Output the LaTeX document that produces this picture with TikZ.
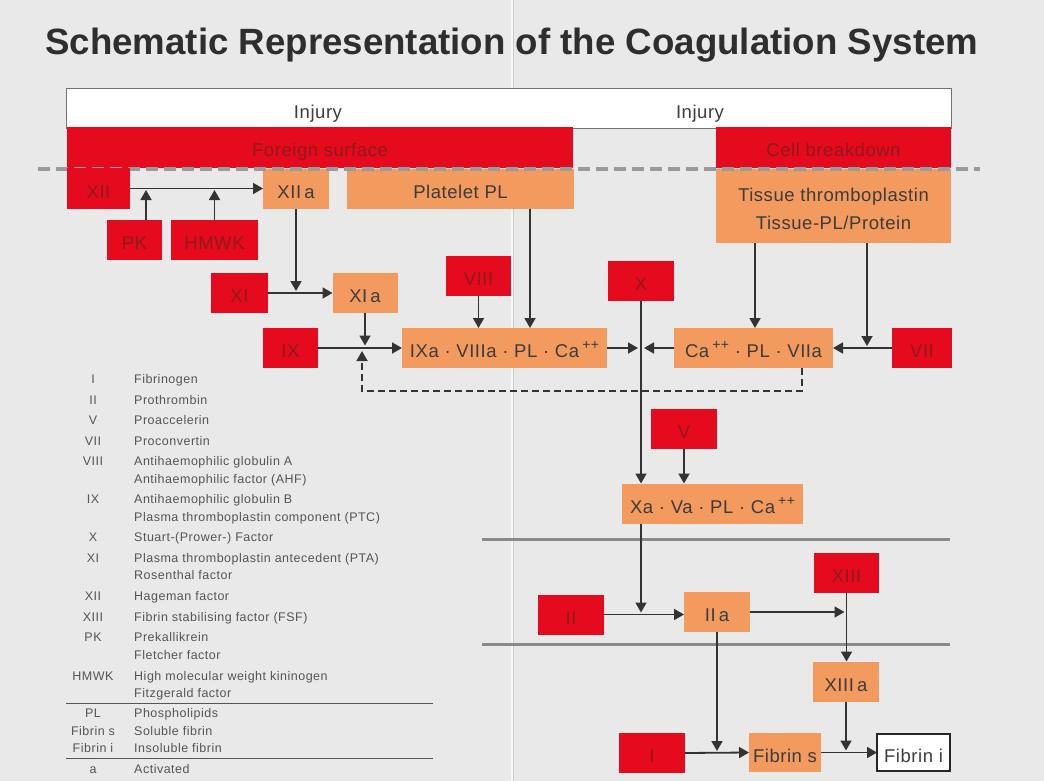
\documentclass[tikz,border=0pt]{standalone}
\usepackage{fontspec}
\setmainfont{Liberation Sans}
\newfontfamily\labfont[LetterSpace=3.0]{Liberation Sans}
\newfontfamily\legfont[LetterSpace=4.0]{Liberation Sans}
\usetikzlibrary{arrows.meta}
\definecolor{bg}{HTML}{E9E9E9}
\definecolor{cred}{HTML}{E50A1E}
\definecolor{corange}{HTML}{F39A5F}
\definecolor{redtxt}{HTML}{8F1A1A}
\definecolor{dtxt}{HTML}{3C3C3C}
\definecolor{ltxt}{HTML}{555555}
\definecolor{lnc}{HTML}{333333}
\definecolor{sepc}{HTML}{8A8A8A}
\definecolor{dashc}{HTML}{9A9A9A}
\definecolor{ttl}{HTML}{2E2E2E}
\newcommand{\cpp}{\,\raisebox{0.42em}{\fontsize{14}{14}\selectfont ++}}
\begin{document}
\begin{tikzpicture}[x=1pt,y=-1pt,
  bx/.style={rectangle, inner sep=0pt, outer sep=0pt, font=\labfont\fontsize{18.5}{27.5}\selectfont},
  one/.style={text height=19pt, text depth=0pt},
  rb/.style={bx, fill=cred, text=redtxt},
  ob/.style={bx, fill=corange, text=dtxt},
  rbox/.style={rb, one},
  obox/.style={ob, one},
  arr/.style={draw=lnc, line width=1.8pt, -{Triangle[length=10pt,width=11pt]}},
  arrd/.style={arr, dash pattern=on 7pt off 4pt},
  sepline/.style={draw=sepc, line width=3pt},
  leg/.style={font=\legfont\fontsize{12.5}{14}\selectfont, text=ltxt, inner sep=0pt},
]
\useasboundingbox (0,0) rectangle (1044,781);
\fill[bg] (0,0) rectangle (1044,781);
\draw[white!70!bg, line width=1.2pt] (512,0) -- (512,781);
\draw[black!12!bg, line width=0.5pt] (513.2,0) -- (513.2,781);

% title
\node[anchor=base west, inner sep=0pt, text=ttl] (title) at (45,55)
  {\resizebox{933pt}{26.5pt}{\bfseries Schematic Representation of the Coagulation System}};

% injury bar
\node[bx, fill=white, draw=black!55, line width=0.8pt, minimum width=885, minimum height=40] (inj) at (508.5,108.5) {};
\node[bx, one, text=dtxt] (inj1) at (318,109) {Injury};
\node[bx, one, text=dtxt] (inj2) at (700,109) {Injury};

% top red boxes
\node[rbox, minimum width=506, minimum height=40] (fsurf) at (320,147.5) {Foreign surface};
\node[rbox, minimum width=235, minimum height=40] (cellb) at (833.5,147.5) {Cell breakdown};

% orange row
\node[obox, minimum width=66, minimum height=40] (xiia) at (296,188.5) {XII\,a};
\node[obox, minimum width=227, minimum height=40] (ppl) at (460.5,188.5) {Platelet PL};
\node[ob, minimum width=235, minimum height=74] (tt) at (833.5,205.5) {};
\node[bx, text=dtxt, align=center] (ttlab) at (833.5,209) {Tissue thromboplastin\\Tissue-PL/Protein};

% dashed boundary
\draw[dashc, line width=3.5pt, dash pattern=on 12pt off 6pt] (38,169) -- (980,169);

\node[rbox, minimum width=63, minimum height=41] (xii) at (98.5,188.5) {XII};

% factor boxes
\node[rbox, minimum width=55, minimum height=40] (pk) at (134.5,239.5) {PK};
\node[rbox, minimum width=87, minimum height=40] (hmwk) at (214.5,239.5) {HMWK};
\node[rbox, minimum width=57, minimum height=40] (xi) at (239.5,293) {XI};
\node[obox, minimum width=65, minimum height=40] (xia) at (365,293) {XI\,a};
\node[rbox, minimum width=65, minimum height=40] (viii) at (478.5,276) {VIII};
\node[rbox, minimum width=66, minimum height=40] (x) at (641,281) {X};
\node[rbox, minimum width=55, minimum height=40] (ix) at (290.5,348) {IX};
\node[obox, minimum width=205, minimum height=40] (ixa) at (504.5,348) {IXa · VIIIa · PL · Ca\cpp};
\node[obox, minimum width=159, minimum height=40] (cavii) at (753.5,348) {Ca\cpp\ · PL · VIIa};
\node[rbox, minimum width=60, minimum height=40] (vii) at (922,348) {VII};
\node[rbox, minimum width=66, minimum height=40] (v) at (684,429) {V};
\node[obox, minimum width=181, minimum height=40] (xa) at (712.5,503.5) {Xa · Va · PL · Ca\cpp};
\node[rbox, minimum width=65, minimum height=40] (xiii) at (846.5,573) {XIII};
\node[rbox, minimum width=66, minimum height=40] (ii) at (571,614.5) {II};
\node[obox, minimum width=66, minimum height=40] (iia) at (717,612) {II\,a};
\node[obox, minimum width=66, minimum height=40] (xiiia) at (846,681.5) {XIII\,a};
\node[rbox, minimum width=66, minimum height=40] (i) at (652,753) {I};
\node[obox, minimum width=72, minimum height=39] (fsol) at (785,752.5) {Fibrin s};
\node[bx, one, fill=white, text=dtxt, draw=black!85, line width=1.8pt, minimum width=73, minimum height=37] (fins) at (913.5,752.5) {Fibrin i};

% separators
\draw[sepline] (482,539) -- (950,539);
\draw[sepline] (482,644) -- (950,644);

% helper coordinates
\coordinate (pkx) at (146,0);
\coordinate (plx) at (530,0);
\coordinate (t1x) at (755,0);
\coordinate (t2x) at (867,0);
\coordinate (fb1) at (802,391);
\coordinate (fb2) at (362,391);

% connectors
\draw[arr] (xii.east |- xiia.west) -- (xiia.west);
\draw[arr, shorten >=1.5pt] (pk.north -| pkx) -- (pkx |- xiia.west);
\draw[arr, shorten >=1.5pt] (hmwk.north) -- (hmwk.north |- xiia.west);
\draw[arr, shorten >=2pt] (xiia.south) -- (xiia.south |- xi.east);
\draw[arr] (xi.east) -- (xia.west);
\draw[arr, shorten >=2.5pt] (xia.south) -- (xia.south |- ix.east);
\draw[arr] (ix.east) -- (ixa.west);
\draw[arr] (viii.south) -- (viii.south |- ixa.north);
\draw[arr] (ppl.south -| plx) -- (plx |- ixa.north);
\draw[arr, shorten >=3pt] (ixa.east) -- (x.south |- ixa.east);
\draw[arr, shorten >=3pt] (cavii.west) -- (x.south |- cavii.west);
\draw[arr] (x.south) -- (x.south |- xa.north);
\draw[arr] (tt.south -| t1x) -- (t1x |- cavii.north);
\draw[arr, shorten >=2pt] (tt.south -| t2x) -- (t2x |- cavii.east);
\draw[arr] (vii.west) -- (cavii.east);
\draw[arrd, shorten >=3pt] (cavii.south -| fb1) -- (fb1) -- (fb2) -- (fb2 |- ixa.west);
\draw[arr] (v.south) -- (v.south |- xa.north);
\draw[arr, shorten >=2pt] (xa.south -| x.south) -- (x.south |- ii.east);
\draw[arr] (ii.east) -- (ii.east -| iia.west);
\draw[arr, shorten >=2pt] (iia.east) -- (xiii.south |- iia.east);
\draw[arr] (xiii.south) -- (xiii.south |- xiiia.north);
\draw[arr, shorten >=2pt] (iia.south) -- (iia.south |- i.east);
\draw[arr] (i.east) -- (fsol.west);
\draw[arr, shorten >=2pt] (xiiia.south) -- (xiiia.south |- fsol.east);
\draw[arr] (fsol.east) -- (fins.west);

% legend
\foreach \yy/\ab/\ds [count=\k] in {
  383.5/I/Fibrinogen,
  404.5/II/Prothrombin,
  424.5/V/Proaccelerin,
  445.5/VII/Proconvertin,
  465.5/VIII/Antihaemophilic globulin A,
  483.5/{}/Antihaemophilic factor (AHF),
  503.5/IX/Antihaemophilic globulin B,
  521.5/{}/Plasma thromboplastin component (PTC),
  541.5/X/Stuart-(Prower-) Factor,
  562.5/XI/Plasma thromboplastin antecedent (PTA),
  579.5/{}/Rosenthal factor,
  600.5/XII/Hageman factor,
  621.5/XIII/Fibrin stabilising factor (FSF),
  641.5/PK/Prekallikrein,
  659.5/{}/Fletcher factor,
  680.5/HMWK/High molecular weight kininogen,
  697.5/{}/Fitzgerald factor,
  717.5/PL/Phospholipids,
  735.5/Fibrin s/Soluble fibrin,
  752.5/Fibrin i/Insoluble fibrin,
  773.5/a/Activated}
{
  \node[leg, anchor=base] (la\k) at (93,\yy) {\ab};
  \node[leg, anchor=base west] (ld\k) at (134,\yy) {\ds};
}
\draw[ltxt, line width=0.8pt] (66,703) -- (433,703);
\draw[ltxt, line width=0.8pt] (66,758) -- (433,758);
\end{tikzpicture}
\end{document}
